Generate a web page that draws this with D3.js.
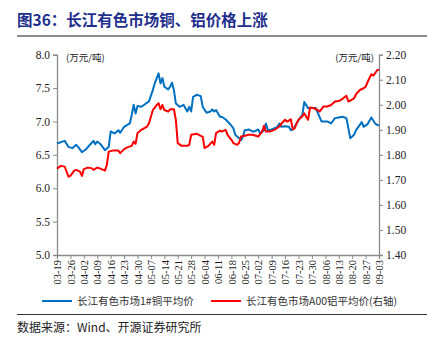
<!DOCTYPE html>
<html><head><meta charset="utf-8">
<script src="https://cdn.jsdelivr.net/npm/d3@7"></script>
<style>body{margin:0;background:#fff}svg{display:block}</style>
</head><body>
<svg id="c" width="436" height="338"></svg>
<script>
const year = "2021-";
const copperDates = ["03-19","03-23","03-25","03-27","03-29","03-30","04-01","04-03","04-07","04-08","04-09","04-11","04-13","04-15","04-16","04-18","04-20","04-21","04-23","04-26","04-27","04-28","04-29","04-30","05-02","05-06","05-08","05-09","05-11","05-12","05-13","05-14","05-16","05-17","05-18","05-19","05-20","05-22","05-24","05-26","05-27","05-28","05-29","05-31","06-02","06-03","06-05","06-07","06-08","06-09","06-10","06-12","06-13","06-15","06-17","06-19","06-20","06-22","06-23","06-24","06-25","06-27","06-29","06-30","07-02","07-03","07-05","07-06","07-07","07-09","07-12","07-13","07-14","07-16","07-18","07-19","07-20","07-21","07-23","07-25","07-26","07-28","07-30","08-01","08-04","08-07","08-09","08-11","08-13","08-15","08-17","08-18","08-19","08-21","08-22","08-25","08-26","08-28","08-30","09-01","09-02","09-03"];
const copperValues = [6.67,6.71,6.62,6.60,6.65,6.62,6.54,6.58,6.71,6.66,6.70,6.65,6.57,6.62,6.85,6.82,6.87,6.83,6.92,6.97,7.10,7.25,7.12,7.23,7.22,7.30,7.47,7.57,7.72,7.57,7.65,7.52,7.48,7.52,7.58,7.47,7.27,7.22,7.25,7.15,7.22,7.15,7.37,7.40,7.38,7.22,7.13,7.15,7.18,7.15,7.17,7.07,7.07,7.03,6.97,6.90,6.80,6.75,6.72,6.77,6.87,6.88,6.85,6.85,6.88,6.82,6.87,6.97,6.87,6.88,6.92,6.97,6.92,6.93,6.92,6.87,6.88,6.92,7.02,7.10,7.29,7.20,7.20,7.20,7.00,7.00,6.97,7.05,7.06,7.07,7.05,6.90,6.75,6.80,6.87,6.99,6.92,6.96,7.06,6.97,6.95,6.94];
const aluDates = ["03-19","03-21","03-23","03-25","03-26","03-28","03-29","03-31","04-01","04-02","04-04","04-06","04-07","04-09","04-10","04-13","04-14","04-15","04-17","04-20","04-21","04-23","04-25","04-27","04-28","04-29","04-30","05-01","05-02","05-05","05-06","05-08","05-10","05-11","05-12","05-13","05-14","05-16","05-17","05-19","05-20","05-21","05-23","05-26","05-27","05-28","05-31","06-02","06-03","06-04","06-06","06-08","06-09","06-10","06-12","06-13","06-15","06-16","06-18","06-19","06-21","06-22","06-23","06-25","06-27","06-29","07-02","07-04","07-05","07-06","07-08","07-11","07-13","07-14","07-16","07-17","07-19","07-20","07-21","07-22","07-23","07-25","07-26","07-28","07-29","07-31","08-02","08-03","08-05","08-07","08-09","08-11","08-13","08-15","08-17","08-18","08-21","08-22","08-24","08-26","08-27","08-28","08-30","08-31","09-01","09-02","09-03"];
const aluValues = [1.745,1.756,1.753,1.713,1.716,1.737,1.740,1.733,1.716,1.743,1.749,1.747,1.740,1.749,1.747,1.737,1.760,1.813,1.817,1.817,1.807,1.823,1.831,1.836,1.853,1.844,1.887,1.893,1.900,1.913,1.926,1.979,1.999,2.006,1.982,1.999,1.979,1.973,1.982,1.982,1.940,1.847,1.836,1.836,1.840,1.880,1.884,1.876,1.873,1.827,1.836,1.853,1.840,1.887,1.897,1.893,1.900,1.880,1.860,1.847,1.840,1.847,1.873,1.876,1.880,1.880,1.873,1.893,1.916,1.893,1.893,1.902,1.913,1.924,1.940,1.933,1.942,1.902,1.906,1.926,1.940,1.953,1.966,1.940,1.989,1.986,1.979,1.973,1.993,1.993,1.999,2.013,2.015,2.024,2.036,2.013,2.026,2.042,2.059,2.066,2.072,2.090,2.122,2.116,2.126,2.138,2.140];
const leftTicks = [5.0,5.5,6.0,6.5,7.0,7.5,8.0];
const rightTicks = [1.40,1.50,1.60,1.70,1.80,1.90,2.00,2.10,2.20];
const xTickLabels = ["03-19","03-26","04-02","04-09","04-16","04-23","04-30","05-07","05-14","05-21","05-28","06-04","06-11","06-18","06-25","07-02","07-09","07-16","07-23","07-30","08-06","08-13","08-20","08-27","09-03"];
const title = "图36：长江有色市场铜、铝价格上涨";
const unitLabel = "(万元/吨)";
const seriesNames = ["长江有色市场1#铜平均价","长江有色市场A00铝平均价(右轴)"];
const source = "数据来源：Wind、开源证券研究所";

const parse = d3.timeParse("%Y-%m-%d");
const svg = d3.select("#c");
const serif = "'Liberation Serif','Times New Roman',serif";
const cjk = "'Noto Sans CJK SC',sans-serif";
const L = 57, R = 379, T = 54.7, B = 255;

const x = d3.scaleTime().domain([parse(year+"03-19"), parse(year+"09-03")]).range([L, R]);
const yL = d3.scaleLinear().domain([5, 8]).range([B, T]);
const yR = d3.scaleLinear().domain([1.4, 2.2]).range([B, T]);

// title
svg.append("text").attr("x", 17).attr("y", 26).attr("fill", "#1F2F8C")
  .attr("font-family", cjk).attr("font-weight", "bold").attr("font-size", 15.5).text(title);
svg.append("line").attr("x1", 17).attr("x2", 427).attr("y1", 36).attr("y2", 36)
  .attr("stroke", "#8c8c8c").attr("stroke-width", 2);

// axes
const gL = svg.append("g").attr("transform", `translate(${L},0)`)
  .call(d3.axisLeft(yL).tickValues(leftTicks).tickFormat(d3.format(".1f")).tickSize(4));
const gR = svg.append("g").attr("transform", `translate(${R},0)`)
  .call(d3.axisRight(yR).tickValues(rightTicks).tickFormat(d3.format(".2f")).tickSize(4));
const gB = svg.append("g").attr("transform", `translate(0,${B})`)
  .call(d3.axisBottom(x).tickValues(xTickLabels.map(s => parse(year+s))).tickFormat(d3.timeFormat("%m-%d")).tickSize(4));
[gL, gR, gB].forEach(g => {
  g.selectAll("path,line").attr("stroke", "#8a8a8a");
  g.select("path.domain").attr("stroke-width", 1.3);
  g.selectAll("text").attr("font-family", serif).attr("fill", "#222").attr("font-size", 11.5);
});
gL.selectAll("text").attr("x", -7);
gR.selectAll("text").attr("x", 7);
gB.selectAll("text").attr("font-size", 10.5)
  .attr("transform", "rotate(-90)").attr("text-anchor", "end")
  .attr("x", -5).attr("y", 0).attr("dy", "0.35em");

// unit labels
svg.append("text").attr("x", 66).attr("y", 61).attr("font-family", cjk).attr("font-size", 9.5).attr("fill", "#222").text(unitLabel);
svg.append("text").attr("x", 374).attr("y", 61).attr("text-anchor", "end").attr("font-family", cjk).attr("font-size", 9.5).attr("fill", "#222").text(unitLabel);

// lines
const copper = copperDates.map((d, i) => ({d: parse(year+d), v: copperValues[i]}));
const alu = aluDates.map((d, i) => ({d: parse(year+d), v: aluValues[i]}));
svg.append("path").datum(copper).attr("fill", "none").attr("stroke", "#0070C0").attr("stroke-width", 2)
  .attr("stroke-linejoin", "round")
  .attr("d", d3.line().x(p => x(p.d)).y(p => yL(p.v)));
svg.append("path").datum(alu).attr("fill", "none").attr("stroke", "#FF0000").attr("stroke-width", 2)
  .attr("stroke-linejoin", "round")
  .attr("d", d3.line().x(p => x(p.d)).y(p => yR(p.v)));

// legend
const lg = [{c: "#0070C0", x: 42, t: seriesNames[0]}, {c: "#FF0000", x: 211, t: seriesNames[1]}];
lg.forEach(o => {
  svg.append("line").attr("x1", o.x).attr("x2", o.x + 30).attr("y1", 301).attr("y2", 301).attr("stroke", o.c).attr("stroke-width", 2);
  svg.append("text").attr("x", o.x + 35).attr("y", 305).attr("font-family", cjk).attr("font-size", 10.5).attr("fill", "#333").text(o.t);
});
svg.append("line").attr("x1", 17).attr("x2", 427).attr("y1", 314.5).attr("y2", 314.5).attr("stroke", "#333").attr("stroke-width", 1);
svg.append("text").attr("x", 17).attr("y", 332).attr("font-family", cjk).attr("font-size", 12).attr("fill", "#222").text(source);
</script>
</body></html>
